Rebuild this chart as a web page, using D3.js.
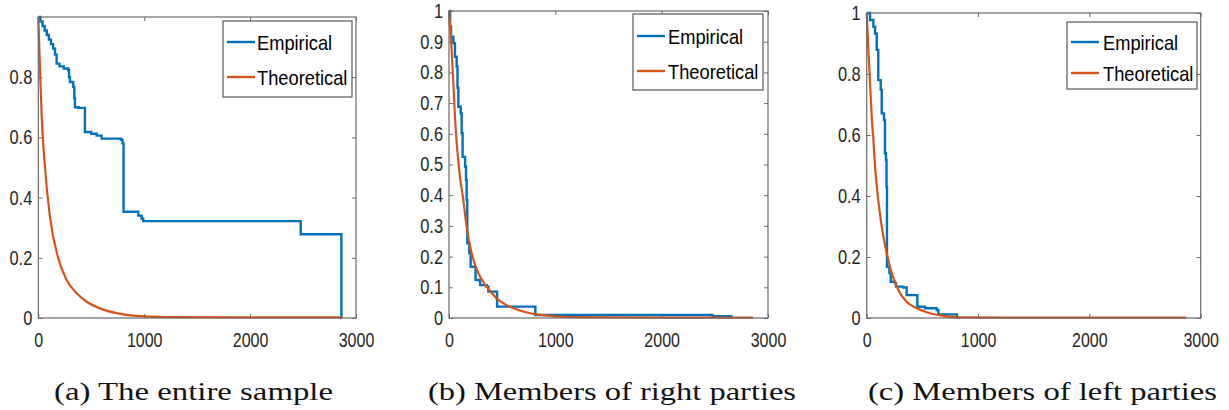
<!DOCTYPE html>
<html>
<head>
<meta charset="utf-8">
<script src="https://cdn.jsdelivr.net/npm/d3@7"></script>
<style>
  html, body { margin: 0; padding: 0; background: #fff; }
  svg { display: block; }
  .sans { font-family: "Liberation Sans", Arimo, Arial, sans-serif; }
  .serif { font-family: "Liberation Serif", "Times New Roman", serif; }
</style>
</head>
<body>
<svg id="chart" width="1229" height="410"></svg>
<script>
// ---------------- data ----------------
const seriesNames = ["Empirical", "Theoretical"];
const captions = ["(a) The entire sample", "(b) Members of right parties", "(c) Members of left parties"];
const xTicks = [0, 1000, 2000, 3000];
const yTicksA = [0, 0.2, 0.4, 0.6, 0.8];
const yTicksB = [0, 0.1, 0.2, 0.3, 0.4, 0.5, 0.6, 0.7, 0.8, 0.9, 1];
const yTicksC = [0, 0.2, 0.4, 0.6, 0.8, 1];

// Empirical survival (step) curves: [x, value]
const empiricalA = [[0,1.0],[20,0.985],[40,0.97],[60,0.955],[80,0.94],[100,0.925],[120,0.91],[140,0.895],[158,0.875],[173,0.845],[200,0.836],[240,0.829],[283,0.823],[290,0.80],[299,0.784],[330,0.768],[340,0.73],[346,0.70],[380,0.698],[440,0.618],[500,0.612],[551,0.606],[598,0.596],[780,0.592],[795,0.58],[805,0.353],[944,0.34],[975,0.33],[991,0.322],[2478,0.278],[2862,0],[2863,0]];
const empiricalB = [[0,1.0],[10,0.95],[19,0.916],[41,0.895],[56,0.851],[72,0.819],[80,0.75],[88,0.688],[110,0.667],[119,0.602],[128,0.525],[151,0.493],[160,0.45],[166,0.384],[172,0.243],[191,0.211],[204,0.167],[250,0.124],[292,0.107],[354,0.102],[370,0.086],[452,0.037],[812,0.01],[2478,0.006],[2666,0.006]];
const empiricalC = [[0,1.0],[30,0.977],[60,0.955],[75,0.933],[90,0.879],[104,0.78],[126,0.748],[135,0.671],[155,0.649],[164,0.54],[173,0.518],[178,0.43],[182,0.168],[204,0.147],[216,0.119],[254,0.114],[263,0.103],[329,0.10],[359,0.075],[455,0.037],[524,0.032],[629,0.026],[644,0.012],[809,0.003],[830,0.003]];

// Theoretical curves: [x, value]
const theoreticalA = [[0,1.0],[16,0.83],[32,0.67],[63,0.50],[110,0.336],[189,0.198],[268,0.126],[362,0.082],[457,0.054],[582,0.032],[740,0.016],[896,0.008],[1210,0.003],[2000,0.002],[2862,0.002]];
const theoreticalB = [[0,1.0],[25,0.873],[41,0.765],[56,0.656],[78,0.547],[103,0.46],[135,0.384],[166,0.297],[213,0.211],[276,0.146],[354,0.102],[448,0.064],[542,0.042],[699,0.021],[856,0.01],[1170,0.003],[2000,0.001],[2860,0.001]];
const theoreticalC = [[0,1.0],[15,0.879],[30,0.77],[45,0.66],[60,0.584],[75,0.496],[104,0.387],[135,0.30],[180,0.212],[225,0.147],[284,0.092],[359,0.053],[449,0.032],[539,0.019],[689,0.007],[838,0.002],[1500,0.001],[2870,0.001]];

// ---------------- layout ----------------
const panels = [
  { emp: empiricalA, theo: theoreticalA, yTicks: yTicksA, cap: captions[0],
    x0: 38.3, x1: 356, yTop: 17, yBot: 318,
    leg: { x: 223, y: 21, w: 129, h: 76, r1: 42, r2: 77, lx0: 227, lx1: 255, tx: 257 },
    capX: 54, capW: 279 },
  { emp: empiricalB, theo: theoreticalB, yTicks: yTicksB, cap: captions[1],
    x0: 449, x1: 768, yTop: 11, yBot: 318,
    leg: { x: 633, y: 14, w: 130, h: 76, r1: 36, r2: 71, lx0: 637, lx1: 665, tx: 668 },
    capX: 428, capW: 368 },
  { emp: empiricalC, theo: theoreticalC, yTicks: yTicksC, cap: captions[2],
    x0: 866.7, x1: 1200.7, yTop: 13, yBot: 318,
    leg: { x: 1067, y: 22, w: 130, h: 67, r1: 42, r2: 73, lx0: 1071, lx1: 1099, tx: 1103 },
    capX: 868, capW: 349 }
];

const BLUE = "#0072BD", ORANGE = "#D95319", AXIS = "#6a6a6a", TXT = "#262626";
const svg = d3.select("#chart");

function squeeze(sel, f) {
  sel.each(function() {
    const len = this.getComputedTextLength();
    d3.select(this).attr("textLength", len * f).attr("lengthAdjust", "spacingAndGlyphs");
  });
}

panels.forEach(p => {
  const x = d3.scaleLinear().domain([0, 3000]).range([p.x0, p.x1]);
  const y = d3.scaleLinear().domain([0, 1]).range([p.yBot, p.yTop]);
  const g = svg.append("g");

  const bottom = g.append("g").attr("transform", `translate(0,${p.yBot})`)
    .call(d3.axisBottom(x).tickValues(xTicks).tickFormat(d3.format("d")).tickSizeInner(-4).tickSizeOuter(0).tickPadding(15));
  const top = g.append("g").attr("transform", `translate(0,${p.yTop})`)
    .call(d3.axisTop(x).tickValues(xTicks).tickFormat("").tickSizeInner(-4).tickSizeOuter(0));
  const left = g.append("g").attr("transform", `translate(${p.x0},0)`)
    .call(d3.axisLeft(y).tickValues(p.yTicks).tickFormat(d => d3.format("~g")(d)).tickSizeInner(-4).tickSizeOuter(0).tickPadding(6));
  const right = g.append("g").attr("transform", `translate(${p.x1},0)`)
    .call(d3.axisRight(y).tickValues(p.yTicks).tickFormat("").tickSizeInner(-4).tickSizeOuter(0));
  [bottom, top, left, right].forEach(a => {
    a.attr("font-family", null).attr("font-size", null).attr("class", "sans");
    a.select(".domain").remove();
    a.selectAll("line").attr("stroke", AXIS).attr("stroke-width", 1);
    a.selectAll("text").attr("fill", TXT).attr("class", "sans").style("font-size", "20px");
  });
  squeeze(bottom.selectAll("text"), 0.8);
  squeeze(left.selectAll("text"), 0.82);

  const lineStep = d3.line().x(d => x(d[0])).y(d => y(d[1])).curve(d3.curveStepAfter);
  const lineSmooth = d3.line().x(d => x(d[0])).y(d => y(d[1])).curve(d3.curveMonotoneX);
  g.append("path").datum(p.emp).attr("d", lineStep).attr("fill", "none").attr("stroke", BLUE).attr("stroke-width", 2.4);
  g.append("path").datum(p.theo).attr("d", lineSmooth).attr("fill", "none").attr("stroke", ORANGE).attr("stroke-width", 2.2);

  g.append("rect").attr("x", p.x0).attr("y", p.yTop).attr("width", p.x1 - p.x0).attr("height", p.yBot - p.yTop)
    .attr("fill", "none").attr("stroke", AXIS).attr("stroke-width", 1.2);

  const L = p.leg;
  const lg = g.append("g");
  lg.append("rect").attr("x", L.x).attr("y", L.y).attr("width", L.w).attr("height", L.h)
    .attr("fill", "#fff").attr("stroke", "#555").attr("stroke-width", 1.2);
  [[L.r1, BLUE, seriesNames[0]], [L.r2, ORANGE, seriesNames[1]]].forEach(([ry, c, name]) => {
    lg.append("line").attr("x1", L.lx0).attr("x2", L.lx1).attr("y1", ry).attr("y2", ry).attr("stroke", c).attr("stroke-width", 2.4);
    const t = lg.append("text").attr("class", "sans").attr("x", L.tx).attr("y", ry).attr("dy", "0.36em").text(name)
      .attr("fill", "#000").style("font-size", "21px");
    squeeze(t, 0.87);
  });

  svg.append("text").attr("class", "serif").attr("x", p.capX).attr("y", 400).text(p.cap)
    .attr("fill", "#111").style("font-size", "25px")
    .attr("textLength", p.capW).attr("lengthAdjust", "spacingAndGlyphs");
});
</script>
</body>
</html>
